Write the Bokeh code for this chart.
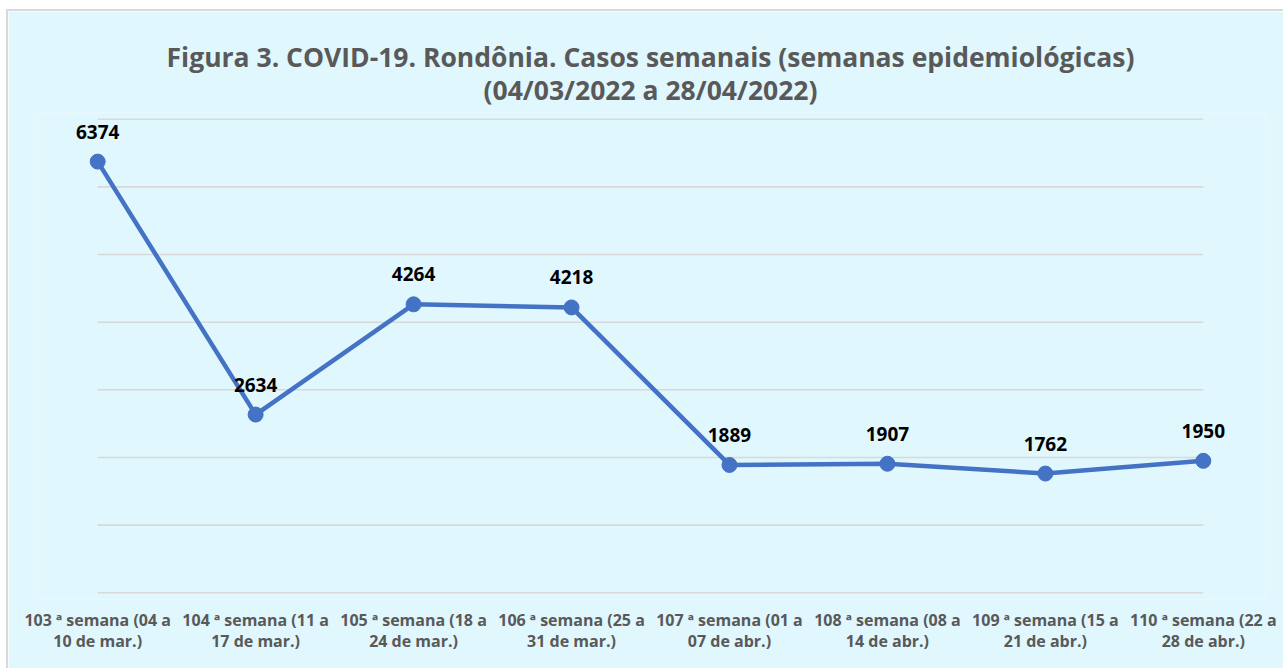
from bokeh.plotting import figure
from bokeh.models import Range1d, FixedTicker, ColumnDataSource, LabelSet, Title
from bokeh.core.properties import value
from bokeh.embed import file_html
from bokeh.resources import INLINE

weeks = [
    "103 ª semana (04 a\n10 de mar.)",
    "104 ª semana (11 a\n17 de mar.)",
    "105 ª semana (18 a\n24 de mar.)",
    "106 ª semana (25 a\n31 de mar.)",
    "107 ª semana (01 a\n07 de abr.)",
    "108 ª semana (08 a\n14 de abr.)",
    "109 ª semana (15 a\n21 de abr.)",
    "110 ª semana (22 a\n28 de abr.)",
]
cases = [6374, 2634, 4264, 4218, 1889, 1907, 1762, 1950]
grid_values = [0, 1000, 2000, 3000, 4000, 5000, 6000, 7000]
title_line1 = "Figura 3. COVID-19. Rondônia. Casos semanais (semanas epidemiológicas)"
title_line2 = "(04/03/2022 a 28/04/2022)"

BG = "#E0F7FE"
GRAY = "#595959"
GRID = "#D9D9D9"
BLUE = "#4472C4"
FONT = "Open Sans"

xs = list(range(len(weeks)))
src = ColumnDataSource(dict(x=xs, y=cases, lbl=[str(c) for c in cases]))
grid_src = ColumnDataSource(dict(x0=[xs[0]] * len(grid_values), x1=[xs[-1]] * len(grid_values),
                                 y=grid_values))

p = figure(width=1275, height=657, output_backend="svg", toolbar_location=None,
           x_range=Range1d(-0.4, len(weeks) - 1 + 0.4), y_range=Range1d(-100, 7100),
           min_border_left=26, min_border_right=17, min_border_top=101, min_border_bottom=69,
           title_location=None)
p.background_fill_color = BG
p.border_fill_color = BG
p.outline_line_color = None
p.styles = {"margin-left": "8px", "margin-top": "11px", "outline": "2px solid #D9D9D9"}

t2 = Title(text=title_line2, align="center", text_font=FONT, text_font_size="26.5px",
           text_font_style="bold", text_color=GRAY, standoff=10)
t1 = Title(text=title_line1, align="center", text_font=FONT, text_font_size="26.5px",
           text_font_style="bold", text_color=GRAY, standoff=-20)
p.add_layout(t2, "above")
p.add_layout(t1, "above")

p.yaxis.visible = False
p.ygrid.visible = False
p.xgrid.visible = False

p.segment(x0="x0", y0="y", x1="x1", y1="y", source=grid_src, line_color=GRID, line_width=1.6)

p.xaxis.ticker = FixedTicker(ticks=xs)
p.xaxis.major_label_overrides = {i: w for i, w in zip(xs, weeks)}
p.xaxis.axis_line_color = None
p.xaxis.major_tick_line_color = None
p.xaxis.minor_tick_line_color = None
p.xaxis.major_label_standoff = 3
p.xaxis.major_label_text_font = FONT
p.xaxis.major_label_text_font_size = "16px"
p.xaxis.major_label_text_font_style = "bold"
p.xaxis.major_label_text_color = GRAY
p.xaxis.major_label_text_line_height = 0.98

p.line("x", "y", source=src, line_color=BLUE, line_width=4.5)
p.scatter("x", "y", source=src, size=15, fill_color=BLUE, line_color=BLUE)

labels = LabelSet(x="x", y="y", text="lbl", source=src, y_offset=30,
                  text_align="center", text_baseline="middle",
                  text_font=value(FONT), text_font_size=value("19px"), text_font_style="bold",
                  text_color="black")
p.add_layout(labels)

open("out.html", "w").write(file_html(p, INLINE))
